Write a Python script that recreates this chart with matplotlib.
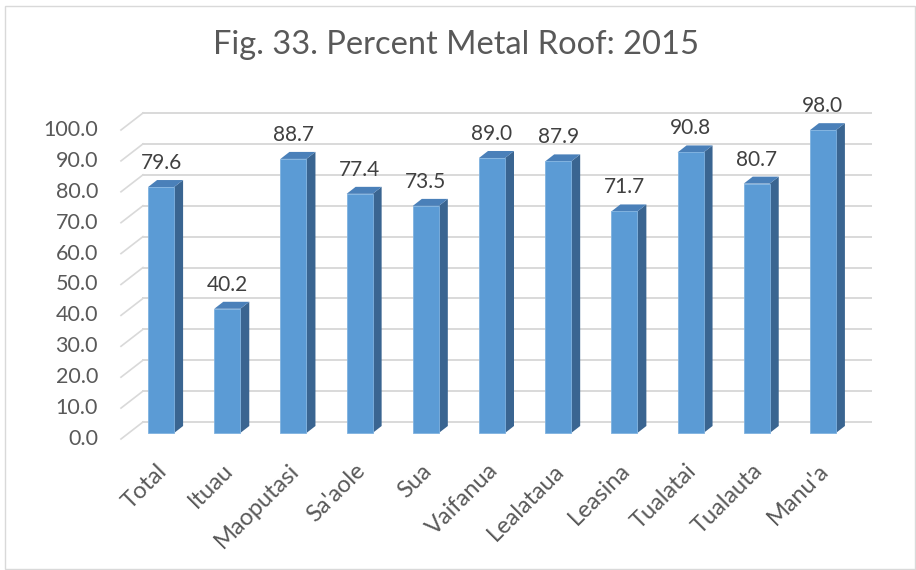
import matplotlib
matplotlib.use("Agg")
import matplotlib.pyplot as plt
from matplotlib.patches import Polygon, Rectangle
from matplotlib.lines import Line2D
from matplotlib.transforms import offset_copy

categories = ["Total", "Ituau", "Maoputasi", "Sa'aole", "Sua", "Vaifanua",
              "Lealataua", "Leasina", "Tualatai", "Tualauta", "Manu'a"]
values = [79.6, 40.2, 88.7, 77.4, 73.5, 89.0, 87.9, 71.7, 90.8, 80.7, 98.0]
yticks = [0, 10, 20, 30, 40, 50, 60, 70, 80, 90, 100]

plt.rcParams['font.family'] = ['Lato', 'DejaVu Sans']
txt_col = '#595959'
front_col = '#5B9BD5'
side_col = '#3A6591'
top_col = '#4A80B9'
grid_col = '#D9D9D9'

W, H = 916, 570
fig = plt.figure(figsize=(W / 100, H / 100), dpi=100)

# bar plane in pixels: x -0.5..10.5 -> 128..856, y 0..100 -> 433..124 (from top)
left_px, right_px, bot_px, top_px = 128, 856, 433, 124
ax = fig.add_axes([left_px / W, 1 - bot_px / H,
                   (right_px - left_px) / W, (bot_px - top_px) / H])
ax.set_xlim(-0.5, len(categories) - 0.5)
ax.set_ylim(0, 100)
ax.axis('off')

px_x = (right_px - left_px) / len(categories)   # pixels per x unit
px_y = (bot_px - top_px) / 100.0                # pixels per y unit

# back wall gridlines and floor diagonals
back_dx, back_dy = 15, 11
front_dx, front_dy = -7, -6
for v in yticks:
    ax.add_line(Line2D([-0.5 + back_dx / px_x, len(categories) - 0.5 + back_dx / px_x],
                       [v + back_dy / px_y] * 2, color=grid_col, lw=1.4,
                       clip_on=False, zorder=1))
    ax.add_line(Line2D([-0.5 + back_dx / px_x, -0.5 + front_dx / px_x],
                       [v + back_dy / px_y, v + front_dy / px_y], color=grid_col,
                       lw=1.2, clip_on=False, zorder=1))
    ax.text(-0.5, v, f"{v:.1f}", transform=offset_copy(ax.transData, fig, x=-30, y=-6, units='dots'),
            ha='right', va='center', fontsize=15.5, color=txt_col)

# 3D-looking bars
bw = 26 / px_x
dx = 9 / px_x
dy = 7 / px_y
for i, v in enumerate(values):
    x0, x1 = i - bw / 2, i + bw / 2
    ax.add_patch(Polygon([(x1, 0), (x1 + dx, dy), (x1 + dx, v + dy), (x1, v)],
                         closed=True, facecolor=side_col, edgecolor='none',
                         clip_on=False, zorder=3))
    ax.add_patch(Polygon([(x0, v), (x0 + dx, v + dy), (x1 + dx, v + dy), (x1, v)],
                         closed=True, facecolor=top_col, edgecolor='none',
                         clip_on=False, zorder=3))
ax.bar(range(len(values)), values, width=bw, color=front_col, edgecolor='#7FB2E0',
       linewidth=0.6, zorder=4, clip_on=False)

for i, v in enumerate(values):
    ax.text(i, v, f"{v:.1f}", transform=offset_copy(ax.transData, fig, x=0, y=24, units='dots'),
            ha='center', va='center', fontsize=15, color='#404040')

for i, c in enumerate(categories):
    ax.text(i, 0, c, transform=offset_copy(ax.transData, fig, x=-5, y=-27, units='dots'),
            ha='right', va='top', rotation=45, rotation_mode='anchor',
            fontsize=17, color=txt_col)

fig.text(456 / W, 1 - 45 / H, "Fig. 33. Percent Metal Roof: 2015",
         ha='center', va='center', fontsize=23.5, color=txt_col)

# chart frame
fig.add_artist(Rectangle((5 / W, 1 - 569 / H), 910 / W, 563 / H, transform=fig.transFigure,
                         fill=False, edgecolor='#D9D9D9', lw=1.0))

fig.savefig("out.png", dpi=100)
